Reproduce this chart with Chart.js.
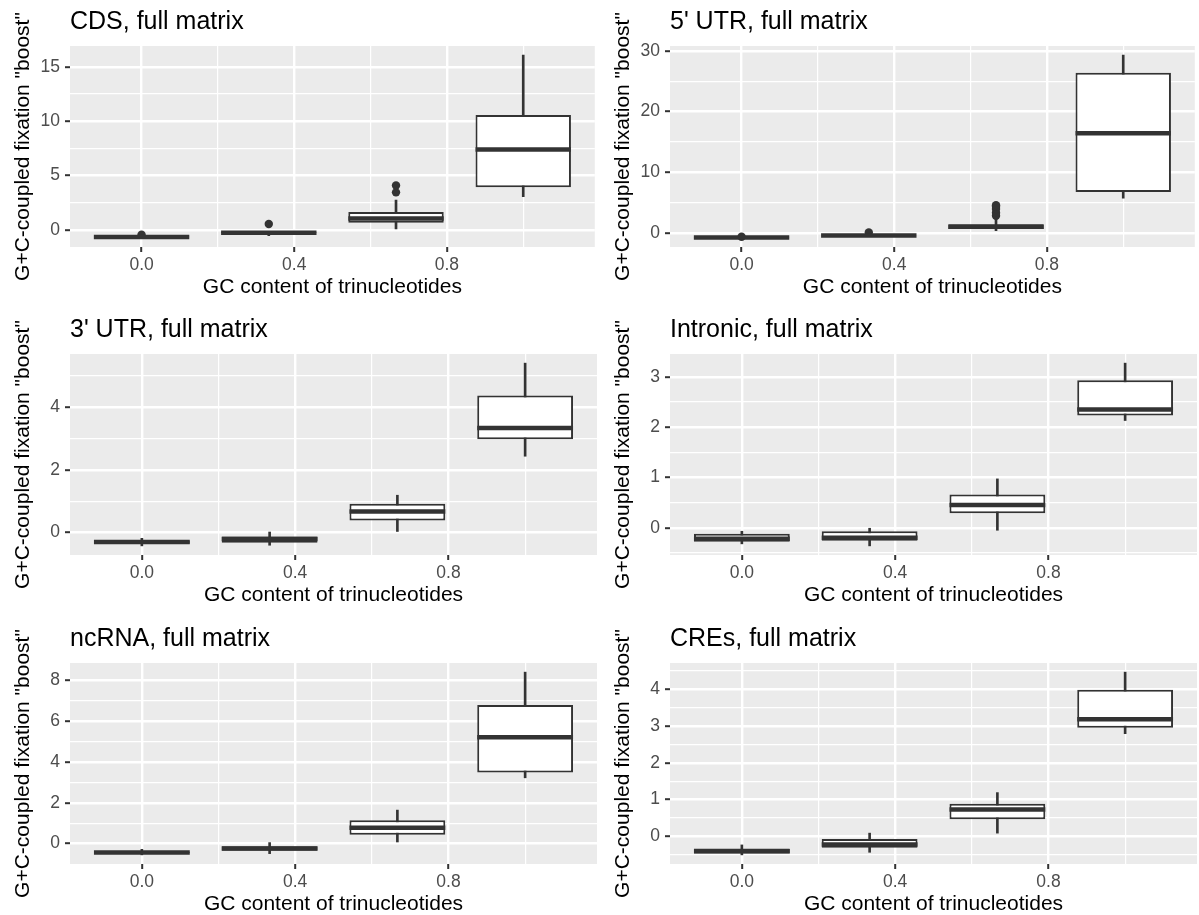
<!DOCTYPE html>
<html>
<head>
<meta charset="utf-8">
<script src="https://cdn.jsdelivr.net/npm/chart.js@4"></script>
<style>
  body { margin: 0; background: #fff; }
  #grid { position: relative; width: 1199px; height: 915px; }
  #grid canvas { position: absolute; }
</style>
</head>
<body>
<div id="grid"></div>
<script>
// GC content of the trinucleotide groups (0, 1, 2 or 3 of 3 bases are G/C)
const gcContent = [0, 1/3, 2/3, 1];

const panelTitles = [
  'CDS, full matrix', "5' UTR, full matrix",
  "3' UTR, full matrix", 'Intronic, full matrix',
  'ncRNA, full matrix', 'CREs, full matrix'
];

// box statistics, one row per panel, one value per GC group
const whiskerLow = [
  [-0.72, -0.52, 0.00, 3.06],
  [-0.85, -0.55, 0.35, 5.70],
  [-0.42, -0.40, 0.00, 2.43],
  [-0.32, -0.36, -0.05, 2.13],
  [-0.55, -0.49, 0.08, 3.22],
  [-0.50, -0.43, 0.09, 2.79]
];
const lowerQuartile = [
  [-0.68, -0.30, 0.67, 3.92],
  [-0.82, -0.50, 0.60, 6.70],
  [-0.35, -0.32, 0.39, 2.97],
  [-0.28, -0.26, 0.29, 2.23],
  [-0.47, -0.35, 0.44, 3.48],
  [-0.46, -0.31, 0.47, 2.95]
];
const medians = [
  [-0.63, -0.24, 1.05, 7.41],
  [-0.77, -0.45, 1.00, 16.4],
  [-0.30, -0.20, 0.67, 3.33],
  [-0.22, -0.20, 0.45, 2.35],
  [-0.43, -0.24, 0.78, 5.20],
  [-0.40, -0.22, 0.73, 3.18]
];
const upperQuartile = [
  [-0.58, -0.18, 1.66, 10.56],
  [-0.72, -0.40, 1.40, 26.4],
  [-0.25, -0.12, 0.92, 4.36],
  [-0.12, -0.07, 0.66, 2.93],
  [-0.40, -0.13, 1.14, 6.78],
  [-0.33, -0.07, 0.89, 3.98]
];
const whiskerHigh = [
  [-0.52, -0.12, 2.75, 16.07],
  [-0.70, -0.35, 2.20, 29.3],
  [-0.18, 0.02, 1.19, 5.39],
  [-0.07, -0.01, 0.97, 3.27],
  [-0.28, 0.05, 1.64, 8.39],
  [-0.23, 0.09, 1.19, 4.46]
];
// outlying points as [gc, value]
const outliers = [
  [[0, -0.42], [1/3, 0.55], [2/3, 3.46], [2/3, 4.10]],
  [[0, -0.66], [1/3, 0.05], [2/3, 2.80], [2/3, 3.30], [2/3, 3.90], [2/3, 4.30], [2/3, 4.55]],
  [], [], [], []
];

const xTicks = [0, 0.4, 0.8];
const xMinorTicks = [0.2, 0.6, 1.0];
const yTicks = [
  [0, 5, 10, 15], [0, 10, 20, 30], [0, 2, 4],
  [0, 1, 2, 3], [0, 2, 4, 6, 8], [0, 1, 2, 3, 4]
];
const yMinorTicks = [
  [2.5, 7.5, 12.5], [5, 15, 25], [1, 3, 5],
  [-0.5, 0.5, 1.5, 2.5], [1, 3, 5, 7], [-0.5, 0.5, 1.5, 2.5, 3.5, 4.5]
];

const FONT = '"Liberation Sans", Arial, Helvetica, sans-serif';
const INK = '#333333';
const PANEL_W = 599, PANEL_H = 298;
const colLeft = [0, 600];
const rowTop = [0, 308, 617];

Chart.defaults.font.family = FONT;

const panelBackground = {
  id: 'panelBackground',
  beforeDraw(chart) {
    const { ctx, chartArea: a } = chart;
    ctx.save();
    ctx.fillStyle = '#EBEBEB';
    ctx.fillRect(a.left, a.top, a.right - a.left, a.bottom - a.top);
    ctx.restore();
  }
};

// median bar across each box, sized from the drawn box element
function medianPlugin(values) {
  return {
    id: 'medianLines',
    afterDatasetsDraw(chart) {
      const meta = chart.getDatasetMeta(1);
      const y = chart.scales.y;
      const ctx = chart.ctx;
      ctx.save();
      ctx.strokeStyle = INK;
      ctx.lineWidth = 4.5;
      meta.data.forEach((bar, i) => {
        const py = y.getPixelForValue(values[i]);
        ctx.beginPath();
        ctx.moveTo(bar.x - bar.width / 2, py);
        ctx.lineTo(bar.x + bar.width / 2, py);
        ctx.stroke();
      });
      ctx.restore();
    }
  };
}

function setTicks(list) {
  return scale => { scale.ticks = list.map(v => ({ value: v })); };
}

function yLimits(p) {
  const vals = whiskerLow[p].concat(whiskerHigh[p], outliers[p].map(o => o[1]));
  const lo = Math.min(...vals), hi = Math.max(...vals);
  const pad = (hi - lo) * 0.05;
  return [lo - pad, hi + pad];
}

const grid = document.getElementById('grid');

panelTitles.forEach((title, p) => {
  const canvas = document.createElement('canvas');
  canvas.width = PANEL_W;
  canvas.height = PANEL_H;
  canvas.style.left = colLeft[p % 2] + 'px';
  canvas.style.top = rowTop[Math.floor(p / 2)] + 'px';
  grid.appendChild(canvas);

  const [yMin, yMax] = yLimits(p);
  const xMin = -0.1875, xMax = 1.1875;

  new Chart(canvas.getContext('2d'), {
    type: 'bar',
    data: {
      datasets: [{
        // whiskers
        type: 'bar',
        data: gcContent.map((x, i) => ({ x: x, y: [whiskerLow[p][i], whiskerHigh[p][i]] })),
        backgroundColor: INK,
        barThickness: 2,
        grouped: false,
        order: 3,
        xAxisID: 'x', yAxisID: 'y'
      }, {
        // boxes
        type: 'bar',
        data: gcContent.map((x, i) => ({ x: x, y: [lowerQuartile[p][i], upperQuartile[p][i]] })),
        backgroundColor: '#FFFFFF',
        borderColor: INK,
        borderWidth: 2,
        borderSkipped: false,
        grouped: false,
        categoryPercentage: 0.75,
        barPercentage: 1,
        order: 2,
        xAxisID: 'x', yAxisID: 'y'
      }, {
        type: 'scatter',
        data: outliers[p].map(o => ({ x: o[0], y: o[1] })),
        backgroundColor: INK,
        borderWidth: 0,
        pointRadius: 4.2,
        order: 1,
        xAxisID: 'x', yAxisID: 'y'
      }]
    },
    options: {
      responsive: false,
      animation: false,
      events: [],
      layout: { padding: { left: 0, right: 2, top: 0, bottom: 0 } },
      plugins: {
        legend: { display: false },
        tooltip: { enabled: false },
        title: {
          display: true,
          text: title,
          align: 'start',
          fullSize: false,
          color: '#000000',
          font: { family: FONT, size: 25, weight: 'normal', lineHeight: 1.2 },
          padding: { top: 7, bottom: 9 }
        }
      },
      scales: {
        x: {
          type: 'linear',
          position: 'bottom',
          offset: false,
          min: xMin, max: xMax,
          afterBuildTicks: setTicks(xTicks),
          afterFit: s => { s.height = 51; },
          border: { display: false },
          grid: { offset: false, color: '#FFFFFF', lineWidth: 2.4, tickColor: INK, tickWidth: 2, tickLength: 5 },
          ticks: {
            color: '#4D4D4D', font: { size: 17.5 }, padding: 3,
            maxRotation: 0, autoSkip: false,
            callback: v => v.toFixed(1)
          },
          title: {
            display: true, text: 'GC content of trinucleotides', color: '#000000',
            font: { size: 21, lineHeight: 1 }, padding: 0
          }
        },
        xMinor: {
          type: 'linear',
          position: 'bottom',
          offset: false,
          min: xMin, max: xMax,
          afterBuildTicks: setTicks(xMinorTicks),
          afterFit: s => { s.height = 0; },
          border: { display: false },
          grid: { offset: false, color: '#FFFFFF', lineWidth: 1.2, drawTicks: false },
          ticks: { display: false }
        },
        y: {
          type: 'linear',
          position: 'left',
          min: yMin, max: yMax,
          afterBuildTicks: setTicks(yTicks[p]),
          afterFit: s => { s.width = 70; },
          border: { display: false },
          grid: { color: '#FFFFFF', lineWidth: 2.4, tickColor: INK, tickWidth: 2, tickLength: 5 },
          ticks: { color: '#4D4D4D', font: { size: 17.5 }, padding: 5, callback: v => String(v) },
          title: {
            display: true, text: 'G+C-coupled fixation "boost"', color: '#000000',
            font: { size: 21, lineHeight: 1 }, padding: { top: 12.5, bottom: 0 }
          }
        },
        yMinor: {
          type: 'linear',
          position: 'left',
          min: yMin, max: yMax,
          afterBuildTicks: setTicks(yMinorTicks[p]),
          afterFit: s => { s.width = 0; },
          border: { display: false },
          grid: { color: '#FFFFFF', lineWidth: 1.2, drawTicks: false },
          ticks: { display: false }
        }
      }
    },
    plugins: [panelBackground, medianPlugin(medians[p])]
  });
});
</script>
</body>
</html>
